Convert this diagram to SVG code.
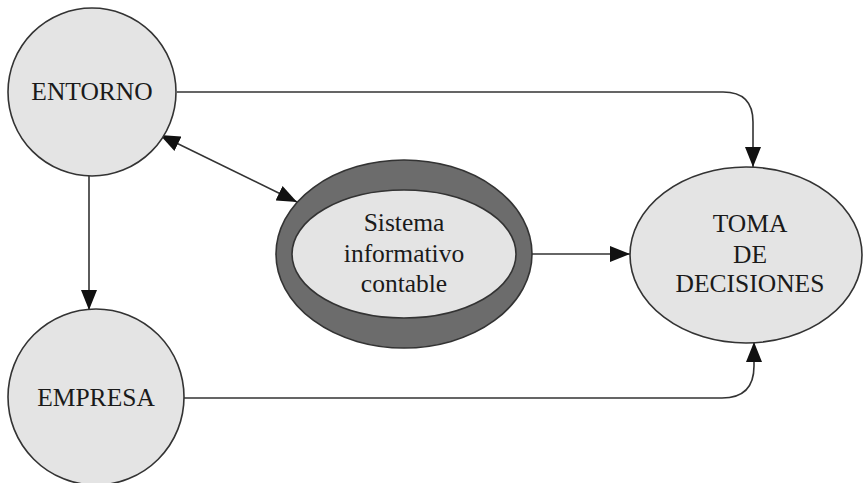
<svg xmlns="http://www.w3.org/2000/svg" width="864" height="483" viewBox="0 0 864 483">
<style>
.node{fill:#e4e4e4;stroke:#333;stroke-width:1.6}
.outer{fill:#6c6c6c;stroke:#333;stroke-width:1.6}
.lbl{font-family:"Liberation Serif","Times New Roman",serif;font-size:25.5px;fill:#1a1a1a;text-anchor:middle}
.edge{fill:none;stroke:#333;stroke-width:1.6}
</style>
<defs>
<marker id="arr" markerUnits="userSpaceOnUse" markerWidth="20" markerHeight="16" refX="20" refY="8" orient="auto-start-reverse" viewBox="0 0 20 16">
<path d="M0,0 L20,8 L0,16 z" fill="#111"/>
</marker>
</defs>
<rect width="864" height="483" fill="#fff"/>
<g id="connectors">
<path class="edge" d="M177,92 H723 Q753,92 753,122 V167" marker-end="url(#arr)"/>
<path class="edge" d="M160,135 L297,202" marker-start="url(#arr)" marker-end="url(#arr)"/>
<path class="edge" d="M89,176 V310" marker-end="url(#arr)"/>
<path class="edge" d="M532,254 H630" marker-end="url(#arr)"/>
<path class="edge" d="M184,398 H722 Q754,398 754,366 V342" marker-end="url(#arr)"/>
</g>
<g id="entorno">
<circle class="node" cx="92" cy="92" r="84"/>
<text class="lbl" x="92" y="100">ENTORNO</text>
</g>
<g id="empresa">
<circle class="node" cx="96" cy="397" r="88"/>
<text class="lbl" x="96" y="406">EMPRESA</text>
</g>
<g id="sistema">
<ellipse class="outer" cx="404" cy="254" rx="128" ry="94"/>
<ellipse class="node" cx="404" cy="254" rx="112" ry="64"/>
<text class="lbl" x="404" y="231">Sistema</text>
<text class="lbl" x="404" y="262">informativo</text>
<text class="lbl" x="404" y="292">contable</text>
</g>
<g id="toma">
<ellipse class="node" cx="746" cy="255" rx="116" ry="88"/>
<text class="lbl" x="750" y="232">TOMA</text>
<text class="lbl" x="750" y="263">DE</text>
<text class="lbl" x="750" y="292">DECISIONES</text>
</g>
</svg>
